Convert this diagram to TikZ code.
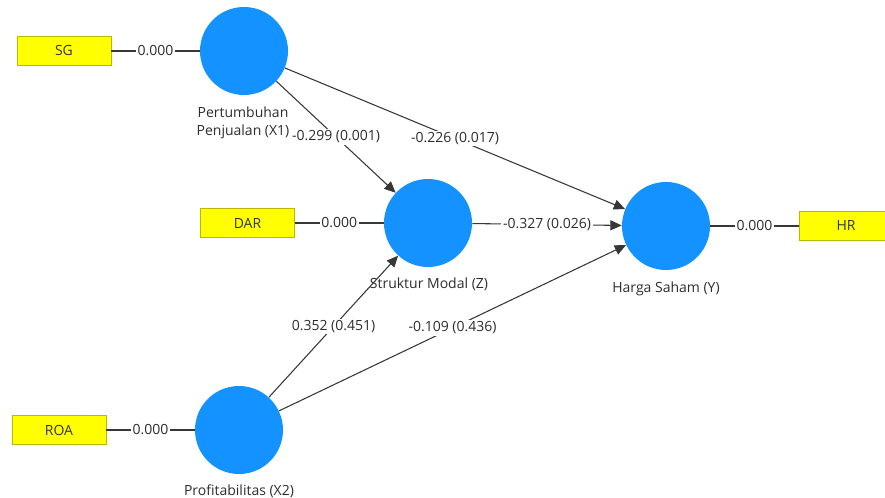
\documentclass[tikz,border=0pt]{standalone}
\usepackage{fontspec}
\setmainfont{Open Sans}
\usetikzlibrary{arrows.meta}

\definecolor{latentblue}{RGB}{20,146,255}
\definecolor{indyellow}{RGB}{255,255,0}
\definecolor{indborder}{RGB}{185,185,0}
\definecolor{pathgray}{RGB}{55,55,55}
\definecolor{textgray}{RGB}{45,45,45}

\tikzset{
  latent/.style={circle,fill=latentblue,minimum size=66pt,inner sep=0pt},
  indicator/.style={rectangle,draw=indborder,fill=indyellow,line width=0.6pt,
    minimum width=70.5pt,minimum height=21.75pt,inner sep=0pt,text=black!80,
    font=\fontsize{10.5}{12}\selectfont},
  latentlab/.style={align=center,text=textgray,inner sep=0.75pt,
    font=\fontsize{10.5}{13}\selectfont},
  coef/.style={fill=white,text=textgray,inner sep=1.2pt,
    font=\fontsize{10.5}{12}\selectfont},
  loading/.style={draw=pathgray,line width=0.8pt},
  structural/.style={draw=pathgray,line width=0.8pt,-{Triangle[length=8.5pt,width=7.5pt]}},
}

\begin{document}
\begin{tikzpicture}[x=0.75pt,y=0.75pt,yscale=-1,xscale=1]
\useasboundingbox (0,0) rectangle (885,498);

% Latent variables
\node [latent] (x1) at (244,51) {};
\node [latent] (z) at (428,223) {};
\node [latent] (y) at (666,226) {};
\node [latent] (x2) at (239,430) {};

% Indicators
\node [indicator] (sg) at (64,51) {SG};
\node [indicator] (dar) at (247.5,223) {DAR};
\node [indicator] (hr) at (846,226) {HR};
\node [indicator] (roa) at (59,430) {ROA};

% Structural paths
\draw [structural] (x1) -- node [coef] (p1) {-0.299 (0.001)} (z);
\draw [structural] (x1) -- node [coef] (p2) {-0.226 (0.017)} (y);
\draw [structural] (z) -- node [coef] (p3) {-0.327 (0.026)} (y);
\draw [structural] (x2) -- node [coef] (p4) {0.352 (0.451)} (z);
\draw [structural] (x2) -- node [coef] (p5) {-0.109 (0.436)} (y);

% Outer loadings
\draw [loading] (sg) -- node [coef] (l1) {0.000} (x1);
\draw [loading] (dar) -- node [coef] (l2) {0.000} (z);
\draw [loading] (roa) -- node [coef] (l3) {0.000} (x2);
\draw [loading] (y) -- node [coef] (l4) {0.000} (hr);

% Latent names
\node [latentlab] (x1lab) at (243,123) {Pertumbuhan\\Penjualan (X1)};
\node [latentlab] (zlab) at (429,284) {Struktur Modal (Z)};
\node [latentlab] (ylab) at (666,289) {Harga Saham (Y)};
\node [latentlab] (x2lab) at (239,491) {Profitabilitas (X2)};

\end{tikzpicture}
\end{document}
